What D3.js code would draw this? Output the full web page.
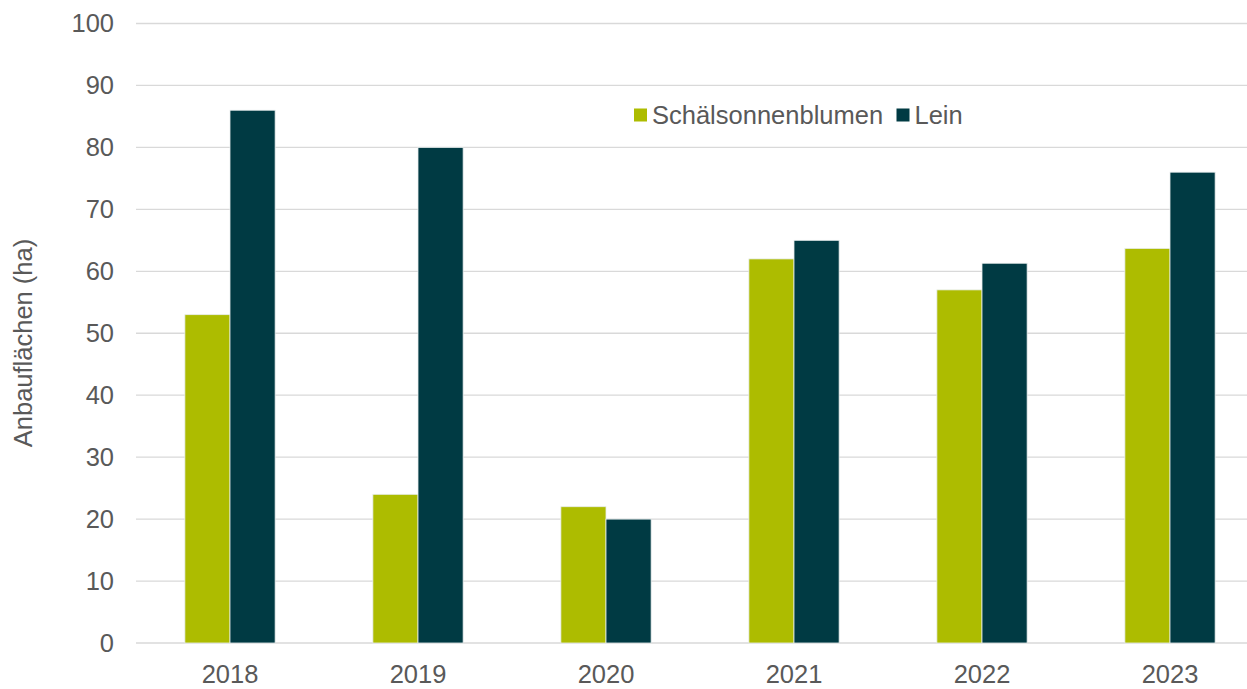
<!DOCTYPE html>
<html>
<head>
<meta charset="utf-8">
<script src="https://cdn.jsdelivr.net/npm/d3@7"></script>
<style>
  html, body { margin: 0; padding: 0; background: #fff; }
  svg { display: block; font-family: "Liberation Sans", Arial, sans-serif; }
</style>
</head>
<body>
<svg id="chart" width="1247" height="689"></svg>
<script>
// data
const years = ["2018", "2019", "2020", "2021", "2022", "2023"];
const sonnenblumen = [53, 24, 22, 62, 57, 63.7];
const lein = [86, 80, 20, 65, 61.3, 76];
const seriesNames = ["Schälsonnenblumen", "Lein"];
const seriesColors = ["#adbc00", "#003a43"];
const yTicks = [0, 10, 20, 30, 40, 50, 60, 70, 80, 90, 100];

const svg = d3.select("#chart");
const textColor = "#595959";
const fontSize = 25.5;

// plot area runs past the right edge (the original is cropped there)
const plotLeft = 136, plotTop = 23.5, plotBottom = 643;
const step = 188;
const plotRight = plotLeft + step * years.length;

const x = d3.scaleBand()
  .domain(years)
  .range([plotLeft, plotRight])
  .paddingInner(0.52)
  .paddingOuter(0.26);

const x1 = d3.scaleBand()
  .domain(seriesNames)
  .range([0, x.bandwidth()]);

const y = d3.scaleLinear().domain([0, 100]).range([plotBottom, plotTop]);

// gridlines
svg.append("g")
  .selectAll("line")
  .data(yTicks)
  .join("line")
  .attr("x1", plotLeft)
  .attr("x2", 1247)
  .attr("y1", d => y(d))
  .attr("y2", d => y(d))
  .attr("stroke", "#d9d9d9")
  .attr("stroke-width", 1.3);

// y tick labels
svg.append("g")
  .selectAll("text")
  .data(yTicks)
  .join("text")
  .attr("x", 114)
  .attr("y", d => y(d))
  .attr("dy", "0.35em")
  .attr("text-anchor", "end")
  .attr("font-size", fontSize)
  .attr("fill", textColor)
  .text(d => d);

// bars
const rows = years.map((yr, i) => ({ year: yr, values: [sonnenblumen[i], lein[i]] }));

const groups = svg.append("g")
  .selectAll("g")
  .data(rows)
  .join("g")
  .attr("transform", d => `translate(${x(d.year)},0)`);

groups.selectAll("rect")
  .data(d => d.values.map((v, k) => ({ name: seriesNames[k], value: v, color: seriesColors[k] })))
  .join("rect")
  .attr("x", d => x1(d.name))
  .attr("y", d => y(d.value))
  .attr("width", x1.bandwidth())
  .attr("height", d => y(0) - y(d.value))
  .attr("fill", d => d.color)
  .attr("stroke", "#e8eeee")
  .attr("stroke-width", 0.8);

// x labels
svg.append("g")
  .selectAll("text")
  .data(years)
  .join("text")
  .attr("x", d => x(d) + x.bandwidth() / 2)
  .attr("y", 683)
  .attr("text-anchor", "middle")
  .attr("font-size", fontSize)
  .attr("fill", textColor)
  .text(d => d);

// y axis title
svg.append("text")
  .attr("transform", "translate(32,343) rotate(-90)")
  .attr("text-anchor", "middle")
  .attr("font-size", fontSize)
  .attr("fill", textColor)
  .text("Anbauflächen (ha)");

// legend
const legend = svg.append("g").attr("transform", "translate(634,108.5)");
const legendX = [0, 262.5];
seriesNames.forEach((name, k) => {
  const g = legend.append("g").attr("transform", `translate(${legendX[k]},0)`);
  g.append("rect")
    .attr("width", 13)
    .attr("height", 13)
    .attr("fill", seriesColors[k]);
  g.append("text")
    .attr("x", 18)
    .attr("y", 15)
    .attr("font-size", fontSize)
    .attr("fill", textColor)
    .text(name);
});
</script>
</body>
</html>
